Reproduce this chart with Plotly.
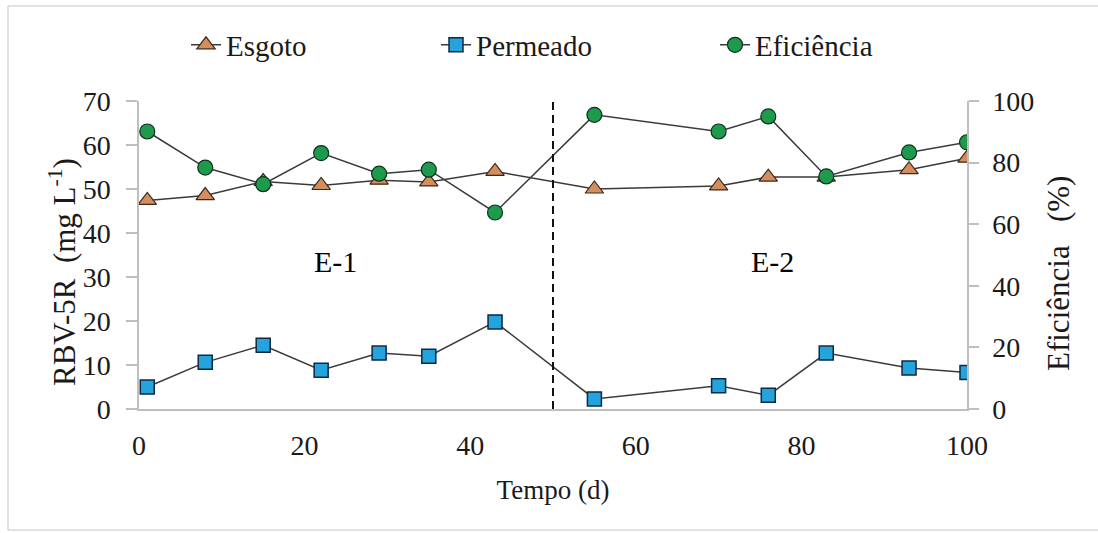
import plotly.graph_objects as go

tempo = [1, 8, 15, 22, 29, 35, 43, 55, 70, 76, 83, 93, 100]
esgoto = [47.4, 48.5, 51.7, 50.8, 52.0, 51.6, 54.0, 50.0, 50.7, 52.7, 52.7, 54.4, 57.0]
permeado = [5.0, 10.6, 14.5, 8.8, 12.7, 12.0, 19.8, 2.3, 5.3, 3.1, 12.7, 9.3, 8.3]
eficiencia = [90.1, 78.4, 73.0, 83.1, 76.4, 77.7, 63.8, 95.5, 90.1, 95.0, 75.5, 83.3, 86.6]

x_ticks = [0, 20, 40, 60, 80, 100]
y1_ticks = [0, 10, 20, 30, 40, 50, 60, 70]
y2_ticks = [0, 20, 40, 60, 80, 100]
divisao = 50
fase_labels = ["E-1", "E-2"]
fase_x = [23.7, 76.5]
fase_y = [33.5, 33.5]

FONT = "Liberation Serif"
TXT = "#1a1a1a"
LINE = "#3a3a3a"
AX = "#bfbfbf"

L, R, T, B = 139, 131, 101, 124
W, H = 1098, 533
pw, ph = W - L - R, H - T - B
def px(xp):
    return (xp - L) / pw
def py(yp):
    return (H - B - yp) / ph

fig = go.Figure()
fig.add_trace(go.Scatter(
    x=tempo, y=esgoto, name="Esgoto", mode="lines+markers", legend="legend",
    line=dict(color=LINE, width=1.5),
    marker=dict(symbol="triangle-up", size=16, color="#D38D5F",
                line=dict(color="#3a2a1a", width=1.2)),
))
fig.add_trace(go.Scatter(
    x=tempo, y=permeado, name="Permeado", mode="lines+markers", legend="legend2",
    line=dict(color=LINE, width=1.5),
    marker=dict(symbol="square", size=14, color="#24A3DC",
                line=dict(color="#102840", width=1.5)),
))
fig.add_trace(go.Scatter(
    x=tempo, y=eficiencia, name="Eficiência", mode="lines+markers", legend="legend3",
    yaxis="y2",
    line=dict(color=LINE, width=1.5),
    marker=dict(symbol="circle", size=15, color="#1E9A4C",
                line=dict(color="#103020", width=1.2)),
))

fig.add_shape(type="line", xref="x", yref="y", x0=divisao, x1=divisao, y0=0, y1=70,
              line=dict(color="#111111", width=2, dash="8px,5px"))

for lab, xv, yv in zip(fase_labels, fase_x, fase_y):
    fig.add_annotation(x=xv, y=yv, xref="x", yref="y", text=lab, showarrow=False,
                       font=dict(family=FONT, size=30, color="#000000"))

# axis titles placed as rotated annotations
fig.add_annotation(x=px(62), y=py(272), xref="paper", yref="paper",
                   text="RBV-5R  (mg L<sup>-1</sup>)", textangle=-90, showarrow=False,
                   xanchor="center", yanchor="middle",
                   font=dict(family=FONT, size=31, color=TXT))
fig.add_annotation(x=px(1058), y=py(274), xref="paper", yref="paper",
                   text="Eficiência   (%)", textangle=-90, showarrow=False,
                   xanchor="center", yanchor="middle",
                   font=dict(family=FONT, size=31, color=TXT))

for (x0, y0, x1, y1) in [(8, 6, 1100, 6), (8, 6, 8, 530), (8, 530, 1100, 530)]:
    fig.add_shape(type="line", xref="paper", yref="paper",
                  x0=px(x0), x1=px(x1), y0=py(y0), y1=py(y1),
                  line=dict(color="#d9d9d9", width=1.5))

def leg(xpix):
    return dict(orientation="h", x=px(xpix), xanchor="left", y=py(45), yanchor="middle",
                font=dict(family=FONT, size=29, color=TXT), itemwidth=30,
                bgcolor="rgba(0,0,0,0)")

fig.update_layout(
    width=W, height=H,
    margin=dict(l=L, r=R, t=T, b=B),
    paper_bgcolor="white", plot_bgcolor="white",
    font=dict(family=FONT, size=28, color=TXT),
    showlegend=True,
    legend=leg(186), legend2=leg(436), legend3=leg(715),
    xaxis=dict(range=[0, 100], tickvals=x_ticks, showgrid=False, zeroline=False,
               showline=True, linecolor=AX, linewidth=1.5, ticks="",
               ticklabelstandoff=11,
               tickfont=dict(family=FONT, size=28, color=TXT),
               title=dict(text="Tempo (d)", font=dict(family=FONT, size=27, color=TXT), standoff=20)),
    yaxis=dict(range=[0, 70], tickvals=y1_ticks, showgrid=False, zeroline=False,
               showline=True, linecolor=AX, linewidth=1.5, ticks="outside",
               ticklen=11, tickcolor=AX, tickwidth=1.5, ticklabelstandoff=10,
               tickfont=dict(family=FONT, size=28, color=TXT)),
    yaxis2=dict(range=[0, 100], tickvals=y2_ticks, overlaying="y", side="right",
                showgrid=False, zeroline=False,
                showline=True, linecolor=AX, linewidth=1.5, ticks="outside",
                ticklen=10, tickcolor=AX, tickwidth=1.5, ticklabelstandoff=8,
                tickfont=dict(family=FONT, size=28, color=TXT)),
)

fig.write_html("out.html", config={"displayModeBar": False},
               post_script="document.body.style.margin='0';document.body.style.overflow='hidden';")
